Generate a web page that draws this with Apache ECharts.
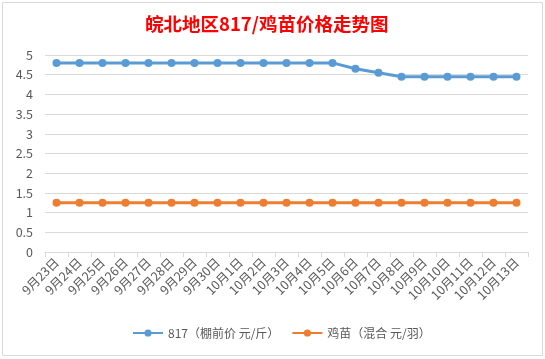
<!DOCTYPE html>
<html><head><meta charset="utf-8">
<script src="https://cdn.jsdelivr.net/npm/echarts@6/dist/echarts.min.js"></script>
<style>html,body{margin:0;padding:0;background:#fff}#c{width:545px;height:359px}</style>
</head><body><div id="c"></div>
<script>
const categories = ['9月23日','9月24日','9月25日','9月26日','9月27日','9月28日','9月29日','9月30日','10月1日','10月2日','10月3日','10月4日','10月5日','10月6日','10月7日','10月8日','10月9日','10月10日','10月11日','10月12日','10月13日'];
const price817 = [4.8,4.8,4.8,4.8,4.8,4.8,4.8,4.8,4.8,4.8,4.8,4.8,4.8,4.65,4.55,4.45,4.45,4.45,4.45,4.45,4.45];
const chickPrice = [1.25,1.25,1.25,1.25,1.25,1.25,1.25,1.25,1.25,1.25,1.25,1.25,1.25,1.25,1.25,1.25,1.25,1.25,1.25,1.25,1.25];
const seriesNames = ['817（棚前价 元/斤）','鸡苗（混合 元/羽）'];
const chart = echarts.init(document.getElementById('c'));
const font = '"Noto Sans CJK SC","Noto Sans",sans-serif';
chart.setOption({
  animation:false,
  textStyle:{fontFamily:font},
  title:{text:'皖北地区817/鸡苗价格走势图',left:140,top:10,
    textStyle:{color:'#ff0000',fontSize:18.5,fontWeight:'bold',fontFamily:font}},
  graphic:[{type:'rect',shape:{x:2.5,y:2.5,width:540,height:353},style:{fill:null,stroke:'#d9d9d9',lineWidth:1}}],
  grid:{left:45,right:17,top:55,bottom:107},
  legend:{bottom:15,left:127,itemWidth:30,itemHeight:9,itemGap:12,
    textStyle:{color:'#595959',fontSize:12,fontFamily:font},
    data:seriesNames},
  xAxis:{type:'category',data:categories,boundaryGap:true,
    axisLine:{lineStyle:{color:'#d9d9d9'}},
    axisTick:{show:true,length:5,lineStyle:{color:'#d9d9d9'}},
    axisLabel:{rotate:45,color:'#595959',fontSize:12.5,interval:0,margin:8,fontFamily:font}},
  yAxis:{type:'value',min:0,max:5,interval:0.5,
    axisLine:{show:false},axisTick:{show:false},
    splitLine:{lineStyle:{color:'#d9d9d9'}},
    axisLabel:{color:'#595959',fontSize:12.5,margin:12,fontFamily:font}},
  series:[
    {name:seriesNames[0],type:'line',data:price817,symbol:'circle',symbolSize:8,
      lineStyle:{width:3,color:'#5b9bd5'},itemStyle:{color:'#5b9bd5'}},
    {name:seriesNames[1],type:'line',data:chickPrice,symbol:'circle',symbolSize:8,
      lineStyle:{width:3,color:'#ed7d31'},itemStyle:{color:'#ed7d31'}}
  ]
});
</script></body></html>
